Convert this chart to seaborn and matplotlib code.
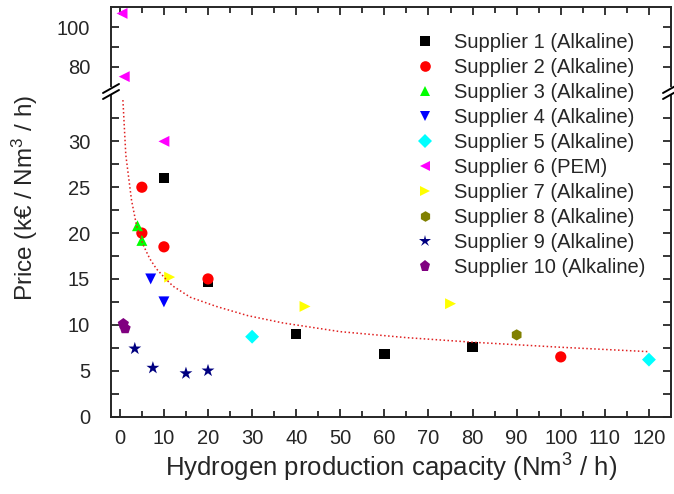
import numpy as np
import pandas as pd
import matplotlib
matplotlib.use('Agg')
import matplotlib.pyplot as plt
import seaborn as sns
from matplotlib.lines import Line2D

# Data
suppliers = ['Supplier 1 (Alkaline)', 'Supplier 2 (Alkaline)', 'Supplier 3 (Alkaline)',
             'Supplier 4 (Alkaline)', 'Supplier 5 (Alkaline)', 'Supplier 6 (PEM)',
             'Supplier 7 (Alkaline)', 'Supplier 8 (Alkaline)', 'Supplier 9 (Alkaline)',
             'Supplier 10 (Alkaline)']
capacity = [
    [10, 20, 40, 60, 80],
    [5, 5, 10, 20, 100],
    [4, 5],
    [7, 10],
    [30, 120],
    [0.5, 1, 10],
    [11.3, 42, 75],
    [90],
    [3.4, 7.5, 15, 20],
    [0.8, 1.2],
]
price = [
    [26, 14.7, 9, 6.8, 7.6],
    [25, 20, 18.5, 15, 6.5],
    [20.8, 19.2],
    [15, 12.5],
    [8.7, 6.2],
    [107, 75, 30],
    [15.2, 12, 12.3],
    [8.9],
    [7.4, 5.3, 4.7, 5],
    [10.1, 9.6],
]
colors = ['black', 'red', '#00ff00', 'blue', 'cyan', 'magenta', 'yellow', 'olive', 'navy', 'purple']
markers = ['s', 'o', '^', 'v', 'D', '<', '>', 'h', '*', 'p']
marker_sizes = [55, 65, 62, 62, 50, 62, 62, 65, 95, 72]

# dotted trend curve
trend_x = [0.7, 1.36, 2.65, 3.8, 5.3, 6.8, 8.3, 10.6, 12.1, 16, 21.9, 29, 37, 50, 65, 80, 100, 120]
trend_y = [34.5, 28.5, 23.6, 20.8, 18.7, 17.2, 16.1, 14.9, 14.2, 13.0, 12.0, 11.0, 10.2, 9.25, 8.6, 8.1, 7.55, 7.07]

rows = []
for name, xs, ys in zip(suppliers, capacity, price):
    for x, y in zip(xs, ys):
        rows.append({'supplier': name, 'capacity': x, 'price': y})
df = pd.DataFrame(rows)

sns.set_style('ticks')
plt.rcParams['font.family'] = ['Liberation Sans', 'DejaVu Sans']
plt.rcParams['mathtext.fontset'] = 'custom'
plt.rcParams['mathtext.rm'] = 'Liberation Sans'
plt.rcParams['mathtext.default'] = 'regular'

W, H = 674, 494
fig = plt.figure(figsize=(W / 100, H / 100), dpi=100)
left, right = 111, 671
ax_top = fig.add_axes([left / W, 1 - 86.5 / H, (right - left) / W, 79 / H])
ax = fig.add_axes([left / W, 1 - 416.5 / H, (right - left) / W, 321 / H])

palette = dict(zip(suppliers, colors))
marker_map = dict(zip(suppliers, markers))
size_map = dict(zip(suppliers, marker_sizes))

for a in (ax_top, ax):
    sns.scatterplot(data=df, x='capacity', y='price', hue='supplier', style='supplier',
                    size='supplier', sizes=size_map, size_order=suppliers,
                    palette=palette, markers=marker_map, hue_order=suppliers,
                    style_order=suppliers, linewidth=0, ax=a, legend=(a is ax))
    a.set_xlim(-2, 125)
    a.set_xticks(np.arange(0, 121, 10))
    a.set_xticks(np.arange(5, 121, 10), minor=True)
    a.tick_params(direction='in', which='both', top=True, right=True, width=1.3,
                  labelsize=14.5)
    a.tick_params(which='major', length=6)
    a.tick_params(which='minor', length=4)
    for sp in a.spines.values():
        sp.set_linewidth(1.4)
    a.set_xlabel('')
    a.set_ylabel('')

ax.plot(trend_x, trend_y, linestyle=(0, (1, 1.6)), color='#e02020', linewidth=1.1, zorder=1)

ax.set_ylim(0, 35)
ax.set_yticks(np.arange(0, 31, 5))
ax.set_yticks(np.arange(2.5, 35, 5), minor=True)
ax.tick_params(which='minor', axis='y', length=6)
ax.spines['top'].set_visible(False)
ax.tick_params(top=False, which='both')
ax.tick_params(axis='y', pad=15)
ax.tick_params(axis='x', pad=9)

ax_top.set_ylim(70, 110)
ax_top.set_yticks([80, 100])
ax_top.set_yticks([90], minor=True)
ax_top.tick_params(which='minor', axis='y', length=6)
ax_top.spines['bottom'].set_visible(False)
ax_top.tick_params(bottom=False, labelbottom=False, which='both')
ax_top.tick_params(axis='y', pad=15)

ax.set_xlabel('Hydrogen production capacity (Nm$^3$ / h)', fontsize=18.5, labelpad=3)
ax.set_ylabel('Price (k€ / Nm$^3$ / h)', fontsize=17.5)
ax.yaxis.set_label_coords((40 - left) / (right - left), (416.5 - 197.5) / 321)

# break marks on the y-axis
for xb in (left, right):
    for yb in (88.5, 94.5):
        fig.add_artist(Line2D([(xb - 8) / W, (xb + 8) / W],
                              [1 - (yb + 4.5) / H, 1 - (yb - 4.5) / H],
                              color='black', linewidth=1.4))

handles, labels = ax.get_legend_handles_labels()
ax.legend_.remove()
fig.legend(handles, labels, loc='upper left', bbox_to_anchor=(405 / W, 1 - 33 / H),
           frameon=False, fontsize=14.5, borderpad=0, borderaxespad=0,
           handletextpad=0.44, labelspacing=0.3, markerscale=0.95)

fig.savefig('out.png', dpi=100)
